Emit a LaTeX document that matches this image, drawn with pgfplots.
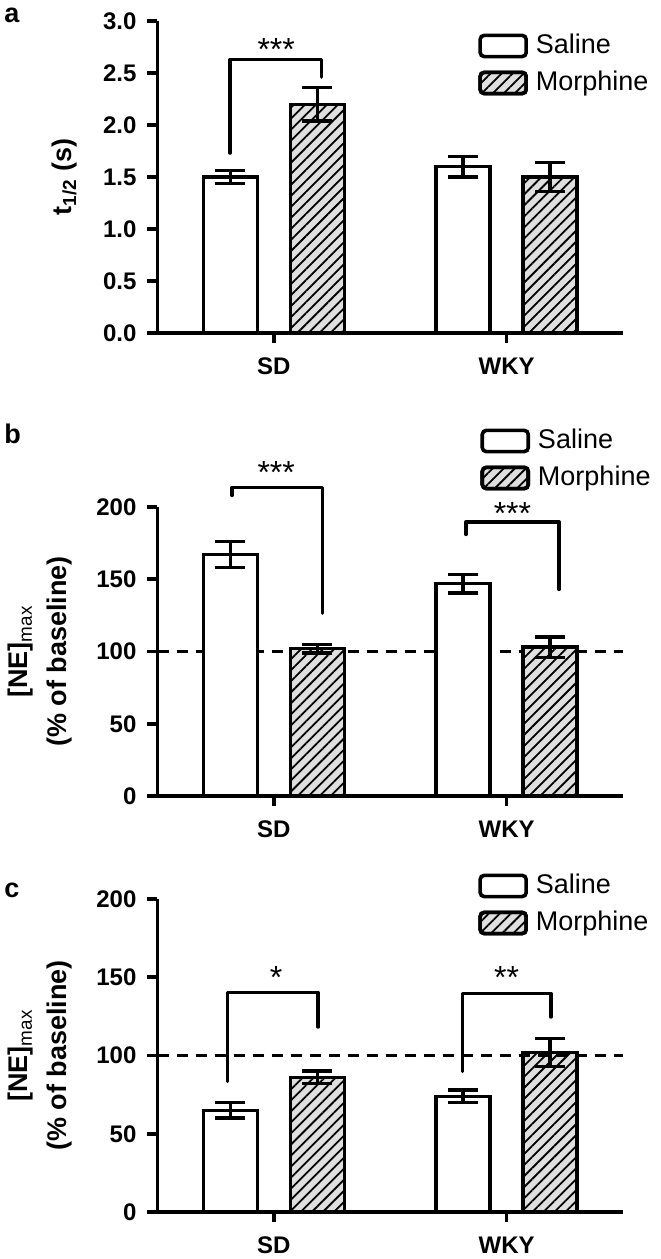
\documentclass[border=0pt]{standalone}
\usepackage{fontspec}
\setmainfont{Liberation Sans}
\usepackage{pgfplots}
\pgfplotsset{compat=1.18}
\usetikzlibrary{patterns.meta}

\tikzset{
  brk/.style={line width=1.7pt, line join=round, line cap=round},
  stars/.style={font=\fontsize{16}{16}\selectfont, anchor=base, yshift=-9pt, inner sep=0pt},
}
\pgfplotsset{
  panel/.style={
    scale only axis, width=232.75pt, anchor=south west,
    xmin=-0.5, xmax=1.5, xtick={0,1}, xticklabels={SD,WKY},
    axis x line*=bottom, axis y line*=left,
    axis line style={line width=1.8pt, -},
    tick align=outside, major tick length=5pt,
    every tick/.style={line width=1.8pt, black},
    tick label style={font=\fontsize{12}{13}\selectfont\bfseries},
    /pgf/number format/assume math mode=true,
    yticklabel style={xshift=-2pt},
    xticklabel style={yshift=-4pt},
    ylabel style={font=\fontsize{13.5}{19.5}\selectfont\bfseries, anchor=center, align=center},
    clip=false,
    legend cell align=left,
    legend style={draw=none, fill=none, anchor=north west, inner sep=0pt,
      row sep=3pt, font=\fontsize{13.5}{16}\selectfont,
      nodes={inner sep=1pt, text height=10.5pt, text depth=3pt}},
    legend image code/.code={
      \draw[#1, line width=1.8pt, draw=black, rounded corners=2pt] (0pt,-5.3pt) rectangle (23pt,5.3pt);
      \path (26pt,0pt);},
  },
  saline/.style={ybar, bar width=27pt, bar shift=0pt, draw=black, line width=1.7pt, fill=white},
  morph/.style={ybar, bar width=27pt, bar shift=0pt, draw=black, line width=1.7pt, fill=gray!25,
    postaction={pattern={Lines[angle=45, distance=3.9pt, line width=0.9pt]}, pattern color=black}},
  eb/.style={error bars/.cd, y dir=both, y explicit,
    error bar style={line width=1.7pt, black},
    error mark options={rotate=90, mark size=7.5pt, line width=1.7pt, black}},
}

\begin{document}
\begin{tikzpicture}
\useasboundingbox (0,0) rectangle (330pt,-629.5pt);
\node[anchor=base west, inner sep=0pt, font=\fontsize{13.5}{15}\selectfont\bfseries] at (2pt,-11pt) {a};
\node[anchor=base west, inner sep=0pt, font=\fontsize{13.5}{15}\selectfont\bfseries] at (2pt,-221.5pt) {b};
\node[anchor=base west, inner sep=0pt, font=\fontsize{13.5}{15}\selectfont\bfseries] at (2pt,-448.5pt) {c};

% panel a
\begin{axis}[panel, at={(78.75pt,-166.5pt)}, height=156pt,
  ymin=0, ymax=3, ytick={0,0.5,...,3},
  yticklabel style={/pgf/number format/.cd, fixed, fixed zerofill, precision=1},
  ylabel={t\textsubscript{1/2} (s)},
  ylabel style={at={(axis description cs:-0.199,0.5)}},
  legend style={at={(axis cs:0.877,2.913)}}]
\addplot[saline, eb] coordinates {(-0.187,1.50) +- (0,0.06) (0.813,1.60) +- (0,0.10)};
\addplot[morph, eb] coordinates {(0.187,2.20) +- (0,0.16) (1.187,1.50) +- (0,0.14)};
\legend{Saline, Morphine}
\draw[brk] (axis cs:-0.188,1.73) -- (axis cs:-0.188,2.63) -- (axis cs:0.205,2.63) -- (axis cs:0.205,2.46);
\node[stars] at (axis cs:0.01,2.79) {***};
\end{axis}

% panel b
\begin{axis}[panel, at={(78.75pt,-398pt)}, height=144.5pt,
  ymin=0, ymax=200, ytick={0,50,...,200},
  ylabel={[NE]\textsubscript{\mdseries max}\\(\% of baseline)},
  ylabel style={at={(axis description cs:-0.252,0.5)}},
  legend style={at={(axis cs:0.886,256.7)}}]
\addplot[sharp plot, forget plot, line width=1.6pt, dash pattern=on 5.5pt off 4pt] coordinates {(-0.5,100) (1.5,100)};
\addplot[saline, eb] coordinates {(-0.187,167) +- (0,9) (0.813,147) +- (0,6.5)};
\addplot[morph, eb] coordinates {(0.187,102) +- (0,3) (1.187,103) +- (0,7)};
\legend{Saline, Morphine}
\draw[brk] (axis cs:-0.18,208) -- (axis cs:-0.18,213.7) -- (axis cs:0.21,213.7) -- (axis cs:0.21,126.5);
\node[stars] at (axis cs:0.01,229) {***};
\draw[brk] (axis cs:0.825,181) -- (axis cs:0.825,189.6) -- (axis cs:1.225,189.6) -- (axis cs:1.225,143);
\node[stars] at (axis cs:1.025,200.7) {***};
\end{axis}

% panel c
\begin{axis}[panel, at={(78.75pt,-606pt)}, height=156.5pt,
  ymin=0, ymax=200, ytick={0,50,...,200},
  ylabel={[NE]\textsubscript{\mdseries max}\\(\% of baseline)},
  ylabel style={at={(axis description cs:-0.252,0.5)}},
  legend style={at={(axis cs:0.877,218.5)}}]
\addplot[saline, eb] coordinates {(-0.187,65) +- (0,5) (0.813,74) +- (0,4)};
\addplot[morph, eb] coordinates {(0.187,86) +- (0,4) (1.187,102) +- (0,9)};
\addplot[sharp plot, forget plot, line width=1.6pt, dash pattern=on 5.5pt off 4pt] coordinates {(-0.5,100) (1.5,100)};
\legend{Saline, Morphine}
\draw[brk] (axis cs:-0.2,83.4) -- (axis cs:-0.2,140.3) -- (axis cs:0.19,140.3) -- (axis cs:0.19,118.2);
\node[stars] at (axis cs:0.01,154.6) {*};
\draw[brk] (axis cs:0.81,89.8) -- (axis cs:0.81,139.7) -- (axis cs:1.19,139.7) -- (axis cs:1.19,124.6);
\node[stars] at (axis cs:1.0,154.6) {**};
\end{axis}
\end{tikzpicture}
\end{document}
